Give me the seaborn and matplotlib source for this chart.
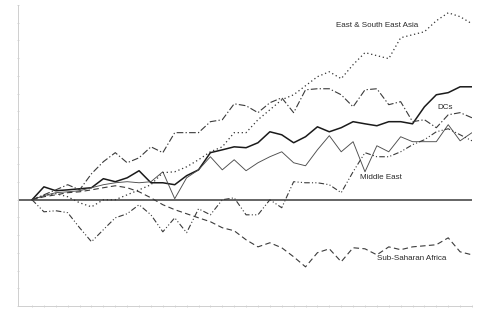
import matplotlib
matplotlib.use("Agg")
import matplotlib.pyplot as plt
import numpy as np
import pandas as pd
import seaborn as sns

sns.set_theme(style="white")
plt.rcParams["font.family"] = ["Liberation Sans", "DejaVu Sans"]

# Annual index values (log change relative to the first year)
years = list(range(1960, 1998))

dcs_total = [0, .073, .051, .056, .062, .068, .119, .102, .124, .164, .096, .096, .085,
             .136, .169, .266, .282, .299, .294, .322, .384, .367, .322, .356, .412, .384,
             .407, .441, .429, .418, .441, .441, .429, .525, .593, .605, .638, .638]

middle_east = [0, .023, .040, .045, .051, .068, .085, .096, .102, .096, .102, .158, .006,
               .124, .169, .243, .169, .226, .164, .209, .243, .271, .209, .192, .282, .362,
               .271, .328, .158, .305, .271, .356, .328, .328, .328, .424, .333, .379]

east_se_asia = [0, .023, .034, .017, -.017, -.040, 0, 0, .028, .056, .085, .153, .158,
                .186, .226, .271, .299, .379, .379, .452, .508, .565, .593, .644, .695, .723,
                .684, .763, .831, .814, .797, .915, .932, .949, 1.011, 1.056, 1.034, .994]

dcs = [0, .028, .056, .085, .056, .147, .215, .266, .209, .237, .299, .266, .379, .379,
       .379, .441, .452, .542, .531, .492, .548, .576, .492, .621, .627, .627, .593, .525,
       .621, .627, .537, .554, .441, .452, .407, .480, .492, .463]

latin_america = [0, -.068, -.062, -.073, -.158, -.237, -.169, -.102, -.079, -.028, -.085,
                 -.181, -.102, -.186, -.051, -.085, 0, .011, -.085, -.085, 0, -.045, .102,
                 .096, .096, .085, .040, .158, .266, .243, .243, .271, .311, .339, .384,
                 .401, .367, .333]

ss_africa = [0, .017, .028, .040, .045, .056, .068, .079, .068, .045, .011, -.028, -.056,
             -.079, -.102, -.124, -.158, -.175, -.226, -.266, -.243, -.271, -.322, -.379,
             -.299, -.277, -.350, -.271, -.277, -.311, -.266, -.282, -.266, -.260, -.254,
             -.215, -.294, -.311]

labels = ["East & South East Asia", "DCs", "Middle East", "Sub-Saharan Africa"]

series = [
    (dcs_total, dict(color="#1a1a1a", lw=1.1, ls="-")),
    (middle_east, dict(color="#4d4d4d", lw=0.65, ls="-")),
    (east_se_asia, dict(color="#333333", lw=0.9, ls=(0, (1.0, 2.2)))),
    (dcs, dict(color="#3a3a3a", lw=0.8, ls=(0, (6, 2, 1.2, 2)))),
    (latin_america, dict(color="#3a3a3a", lw=0.8, ls=(0, (5, 2, 1, 2, 1, 2)))),
    (ss_africa, dict(color="#3a3a3a", lw=0.8, ls=(0, (5, 3)))),
]

fig = plt.figure(figsize=(4.78, 3.26), dpi=100)
ax = fig.add_axes([18 / 478, 20 / 326, 454 / 478, 301 / 326])

for vals, st in series:
    df = pd.DataFrame({"year": years, "value": vals})
    sns.lineplot(data=df, x="year", y="value", ax=ax, color=st["color"],
                 linewidth=st["lw"], linestyle=st["ls"], legend=False)

ax.axhline(0, color="#4a4a4a", lw=1.2, zorder=1)

ax.set_xlim(1958.82, 1997)
ax.set_ylim(-0.6, 1.1)
ax.set_yticks(np.arange(-0.6, 1.11, 0.1))
ax.set_xticks(years)
ax.set_xticklabels([])
ax.set_yticklabels([])
ax.set_xlabel("")
ax.set_ylabel("")
ax.tick_params(axis="both", length=2, width=0.5, color="#c8c8c8", direction="inout",
               left=True, bottom=True)

for side in ["top", "right"]:
    ax.spines[side].set_visible(False)
for side in ["left", "bottom"]:
    ax.spines[side].set_color("#cfcfcf")
    ax.spines[side].set_linewidth(0.7)

txt = dict(fontsize=5.8, color="#2a2a2a", ha="center", va="center")
ax.text(1989.0, 0.983, labels[0], **txt)
ax.text(1994.7, 0.52, labels[1], **txt)
ax.text(1989.3, 0.124, labels[2], **txt)
ax.text(1991.9, -0.333, labels[3], **txt)

fig.savefig("out.png", dpi=100)
